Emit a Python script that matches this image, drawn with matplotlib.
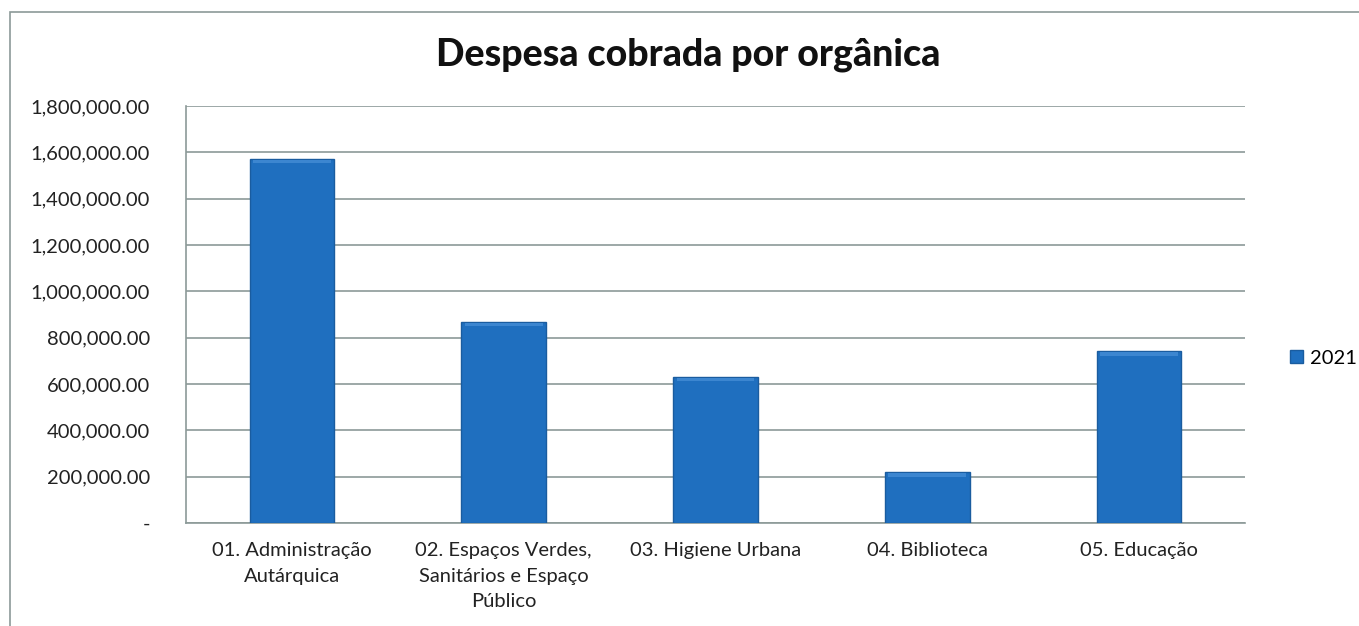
# Despesa cobrada por orgânica - bar chart

import numpy as np
import matplotlib.pyplot as plt
from matplotlib.patches import Rectangle
from matplotlib.ticker import FuncFormatter

plt.rcParams['font.family'] = ['Lato', 'DejaVu Sans']

# data
categorias = ['01. Administração\nAutárquica',
              '02. Espaços Verdes,\nSanitários e Espaço\nPúblico',
              '03. Higiene Urbana',
              '04. Biblioteca',
              '05. Educação']
valores_2021 = [1572000, 869000, 632000, 219000, 742000]
serie = '2021'
y_ticks = np.arange(0, 1800001, 200000)

fig = plt.figure(figsize=(13.59, 6.26), dpi=100)
fig.patch.set_facecolor('white')

# outer chart frame (runs off the right/bottom of the picture)
fig.patches.append(Rectangle((10 / 1359, -0.05), 1.1, 1 - 12 / 626 + 0.05,
                             transform=fig.transFigure, fill=False,
                             edgecolor='#8c9a98', linewidth=1.2))

ax = fig.add_axes([186 / 1359, 1 - 523 / 626, (1245 - 186) / 1359, (523 - 106) / 626])

x = np.arange(len(categorias))
bars = ax.bar(x, valores_2021, width=0.4, color='#1f6fbf', edgecolor='#1a5c9f',
              linewidth=1, label=serie, zorder=3)

# soft bevel along the top of each bar
for b in bars:
    h = b.get_height()
    ax.bar(b.get_x() + b.get_width() / 2, 16000, width=b.get_width() * 0.92,
           bottom=h - 20000, color='#3c86d0', linewidth=0, zorder=4)

ax.set_xlim(-0.5, len(categorias) - 0.5)
ax.set_ylim(0, 1800000)
ax.set_yticks(y_ticks)
ax.yaxis.set_major_formatter(FuncFormatter(lambda v, p: '-' if v == 0 else f'{v:,.2f}'))
ax.set_xticks(x)
ax.set_xticklabels(categorias, fontsize=14.5, color='#222222', linespacing=1.6)
ax.tick_params(axis='y', length=0, pad=26, labelsize=14.5, labelcolor='#222222')
ax.tick_params(axis='x', length=0, pad=14)

ax.grid(axis='y', color='#8c9a98', linewidth=1.2, zorder=0)
for s in ['top', 'right']:
    ax.spines[s].set_visible(False)
for s in ['left', 'bottom']:
    ax.spines[s].set_color('#8c9a98')
    ax.spines[s].set_linewidth(1.2)

fig.text(688 / 1359, 1 - 55 / 626, 'Despesa cobrada por orgânica', ha='center',
         va='center', fontsize=27, fontweight='black', color='#111111')

fig.legend(handles=[bars], labels=[serie], loc='center left',
           bbox_to_anchor=(1272 / 1359, 1 - 358 / 626), frameon=False,
           fontsize=14.5, handlelength=0.65, handleheight=0.65, handletextpad=0.35)

plt.savefig('out.png', dpi=100)
